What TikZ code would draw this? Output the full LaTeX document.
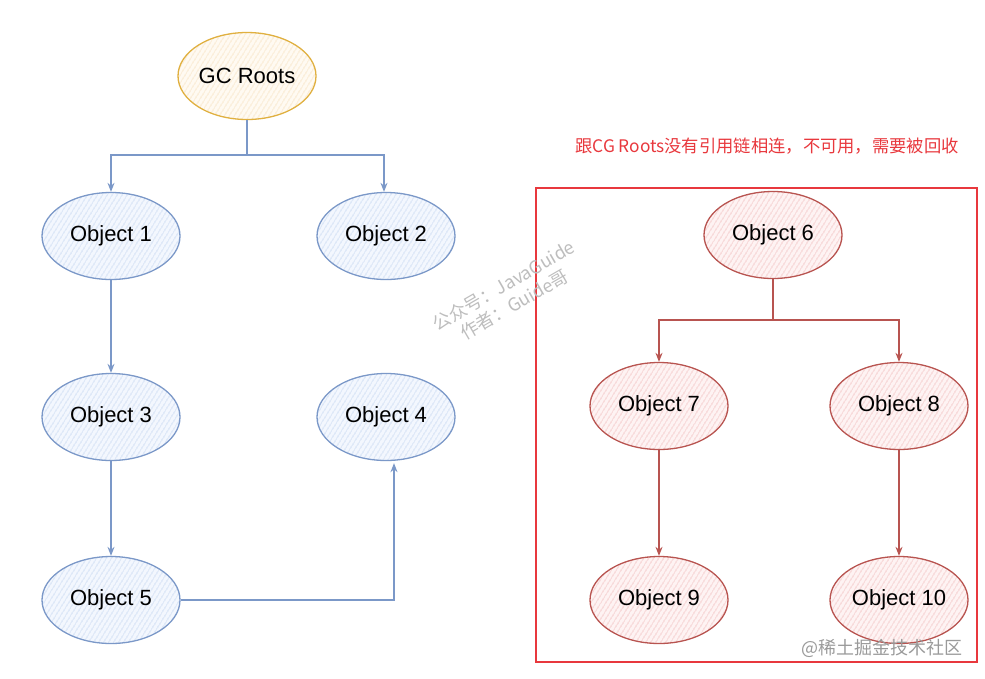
\documentclass[tikz,border=0pt]{standalone}
\usepackage{fontspec}
\setmainfont{Liberation Sans}
\newfontfamily\cjk{Noto Sans CJK SC}
\usetikzlibrary{shapes.geometric,arrows.meta,patterns.meta}
\definecolor{bluedraw}{HTML}{7B98C8}
\definecolor{bluehatch}{HTML}{BDD0EE}
\definecolor{bluefill}{HTML}{F3F7FE}
\definecolor{yeldraw}{HTML}{E0B040}
\definecolor{yelhatch}{HTML}{F5DCB4}
\definecolor{yelfill}{HTML}{FFFAF2}
\definecolor{reddraw}{HTML}{B85450}
\definecolor{redhatch}{HTML}{EFB4B4}
\definecolor{redfill}{HTML}{FEF3F3}
\definecolor{boxred}{HTML}{E8383D}
\definecolor{wmgray}{HTML}{BDBDBD}
\definecolor{wm2gray}{HTML}{9A9A9A}
\tikzset{
  obj/.style={ellipse, minimum width=138pt, minimum height=87pt, inner sep=0pt,
    line width=1.3pt, font=\fontsize{22}{26}\selectfont, text=black},
  blueobj/.style={obj, draw=bluedraw, preaction={fill=bluefill},
    pattern={Lines[angle=58,distance=4pt,line width=0.9pt]}, pattern color=bluehatch},
  yelobj/.style={obj, draw=yeldraw, preaction={fill=yelfill},
    pattern={Lines[angle=58,distance=4pt,line width=0.9pt]}, pattern color=yelhatch},
  redobj/.style={obj, draw=reddraw, preaction={fill=redfill},
    pattern={Lines[angle=58,distance=4pt,line width=0.9pt]}, pattern color=redhatch},
  blueconn/.style={draw=bluedraw, line width=1.3pt, -{Stealth[length=9pt,width=7pt]}},
  bluelink/.style={draw=bluedraw, line width=1.3pt},
  redconn/.style={draw=reddraw, line width=1.3pt, -{Stealth[length=9pt,width=7pt]}},
  redlink/.style={draw=reddraw, line width=1.3pt},
}
\begin{document}
\begin{tikzpicture}[x=1pt,y=-1pt]
\useasboundingbox (0,0) rectangle (985,678);
% red frame
\draw[boxred, line width=2.6pt] (536,188) rectangle (977,662);
\node[text=boxred, font=\cjk\fontsize{17.3}{20}\selectfont] (note) at (767,146) {跟CG Roots没有引用链相连，不可用，需要被回收};
% nodes
\node[yelobj] (gc) at (247,76) {GC Roots};
\node[blueobj] (o1) at (111,236) {Object 1};
\node[blueobj] (o2) at (386,236) {Object 2};
\node[blueobj] (o3) at (111,417) {Object 3};
\node[blueobj] (o4) at (386,417) {Object 4};
\node[blueobj] (o5) at (111,600) {Object 5};
\node[redobj] (o6) at (773,235) {Object 6};
\node[redobj] (o7) at (659,406) {Object 7};
\node[redobj] (o8) at (899,406) {Object 8};
\node[redobj] (o9) at (659,600) {Object 9};
\node[redobj] (o10) at (899,600) {Object 10};
% connectors left
\coordinate (j1) at (247,155);
\draw[bluelink] (gc.south) -- (j1);
\draw[blueconn] (j1) -| (o1.north);
\draw[blueconn] (j1) -| ([xshift=-2pt]o2.north);
\draw[blueconn] (o1.south) -- (o3.north);
\draw[blueconn] (o3.south) -- (o5.north);
\draw[blueconn] (o5.east) -| ([xshift=8pt,yshift=-2pt]o4.south);
% connectors right
\coordinate (j2) at (773,320);
\draw[redlink] (o6.south) -- (j2);
\draw[redconn] (j2) -| (o7.north);
\draw[redconn] (j2) -| (o8.north);
\draw[redconn] (o7.south) -- (o9.north);
\draw[redconn] (o8.south) -- (o10.north);
% watermarks
\node[text=wmgray, rotate=30, align=center, font=\cjk\fontsize{18}{22}\selectfont] (wm) at (509,295) {公众号：JavaGuide\\作者：Guide哥};
\node[text=wm2gray, font=\cjk\fontsize{18}{22}\selectfont, anchor=east] (wm2) at (966,648) {@稀土掘金技术社区};
\end{tikzpicture}
\end{document}
